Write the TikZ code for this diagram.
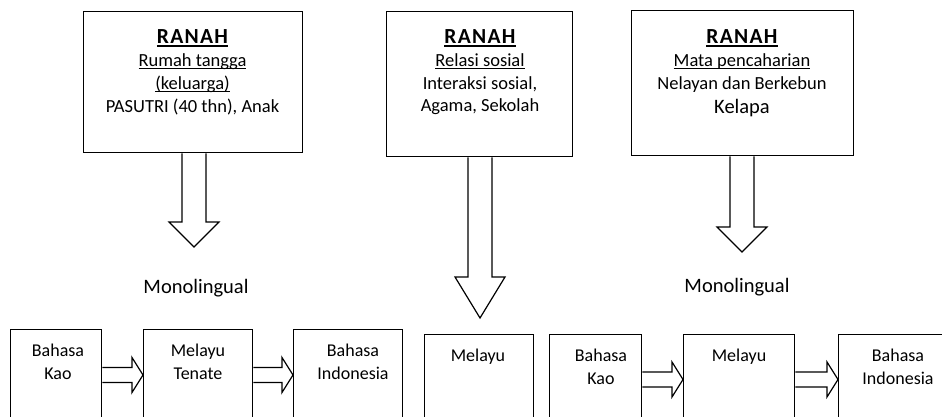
\documentclass[tikz,border=0pt]{standalone}
\usepackage{fontspec}
\setmainfont{Carlito}
\usetikzlibrary{calc}

% underline sitting just under the baseline, through the descenders
\newcommand\ulin[1]{\setbox0\hbox{#1}\rlap{\rule[-2.2pt]{\wd0}{0.9pt}}\box0}
% heavier underline for the headings
\newcommand\ulhead[1]{\setbox0\hbox{#1}\rlap{\rule[-2.6pt]{\wd0}{1.4pt}}\box0}

% hollow block arrow pointing down: [head length]{from node}{tip coordinate}
\newcommand\downblock[3][25]{%
  \draw[blk] let \p1=(#2.south), \p2=(#3) in
    (\x2-12,\y1) -- (\x2-12,\y2+#1) -- (\x2-25,\y2+#1) -- (\x2,\y2)
    -- (\x2+25,\y2+#1) -- (\x2+12,\y2+#1) -- (\x2+12,\y1);}

% hollow block arrow pointing right: {from node}{to node}{height of its axis}
\newcommand\rightblock[3]{%
  \draw[blk] let \p1=(#1.east), \p2=(#2.west) in
    (\x1,#3+7.5) -- (\x2-11,#3+7.5) -- (\x2-11,#3+17.5) -- (\x2,#3)
    -- (\x2-11,#3-17.5) -- (\x2-11,#3-7.5) -- (\x1,#3-7.5);}

\begin{document}
\begin{tikzpicture}[x=1pt,y=1pt,
  box/.style={draw, line width=1.3pt, anchor=north west, inner sep=0pt},
  blk/.style={draw, line width=1.2pt, line join=miter, fill=white},
  txt/.style={anchor=base, inner sep=0pt, font=\fontsize{18.5}{22}\selectfont},
  headtxt/.style={txt, font=\fontsize{21.5}{24}\selectfont\bfseries\addfontfeature{LetterSpace=6}},
  bigtxt/.style={txt, font=\fontsize{20.5}{24}\selectfont},
  lowtxt/.style={txt, font=\fontsize{18}{22}\selectfont}]
\useasboundingbox (0,0) rectangle (942,417);
\clip (0,0) rectangle (942,417);

% domain boxes
\node[box, minimum width=219pt, minimum height=141pt] (r1) at (83,406) {};
\node[box, minimum width=186pt, minimum height=145pt] (r2) at (386,406) {};
\node[box, minimum width=222pt, minimum height=145pt] (r3) at (631,407) {};

\node[headtxt] (r1a) at (192.5,373) {\ulhead{RANAH}};
\node[txt] (r1b) at (192.5,350) {\ulin{Rumah tangga}};
\node[txt] (r1c) at (192.5,327) {\ulin{(keluarga)}};
\node[txt] (r1d) at (192.5,304) {PASUTRI (40 thn), Anak};

\node[headtxt] (r2a) at (480,373) {\ulhead{RANAH}};
\node[txt] (r2b) at (480,350) {\ulin{Relasi sosial}};
\node[txt] (r2c) at (480,327) {Interaksi sosial,};
\node[txt] (r2d) at (480,305) {Agama, Sekolah};

\node[headtxt] (r3a) at (742,373) {\ulhead{RANAH}};
\node[txt] (r3b) at (742,350) {\ulin{Mata pencaharian}};
\node[txt] (r3c) at (742,327) {Nelayan dan Berkebun};
\node[bigtxt] (r3d) at (742,303) {Kelapa};

% arrow tips
\coordinate (t1) at (194,170);
\coordinate (t2) at (480,99);
\coordinate (t3) at (742,165);

\downblock{r1}{t1}
\downblock[41]{r2}{t2}
\downblock{r3}{t3}

\node[bigtxt] (m1) at (196,123) {Monolingual};
\node[bigtxt] (m2) at (737,124) {Monolingual};

% language boxes, running past the lower edge
\node[box, minimum width=91pt, minimum height=130pt] (a) at (10,88) {};
\node[box, minimum width=109pt, minimum height=130pt] (b) at (143,88) {};
\node[box, minimum width=109pt, minimum height=130pt] (c) at (293,88) {};
\node[box, minimum width=109pt, minimum height=130pt] (d) at (424,83) {};
\node[box, minimum width=92pt, minimum height=130pt] (e) at (549,83) {};
\node[box, minimum width=111pt, minimum height=130pt] (f) at (683,83) {};
\node[box, minimum width=200pt, minimum height=130pt] (g) at (838,83) {};

\node[lowtxt] (a1) at (58,60) {Bahasa};
\node[lowtxt] (a2) at (58,37) {Kao};
\node[lowtxt] (b1) at (198,60) {Melayu};
\node[lowtxt] (b2) at (198,37) {Tenate};
\node[lowtxt] (c1) at (353,60) {Bahasa};
\node[lowtxt] (c2) at (353,37) {Indonesia};
\node[lowtxt] (d1) at (478,55) {Melayu};
\node[lowtxt] (e1) at (601,55) {Bahasa};
\node[lowtxt] (e2) at (601,32) {Kao};
\node[lowtxt] (f1) at (739,55) {Melayu};
\node[lowtxt] (g1) at (898,55) {Bahasa};
\node[lowtxt] (g2) at (898,32) {Indonesia};

\rightblock{a}{b}{42}
\rightblock{b}{c}{42}
\rightblock{e}{f}{37.5}
\rightblock{f}{g}{37.5}
\end{tikzpicture}
\end{document}
